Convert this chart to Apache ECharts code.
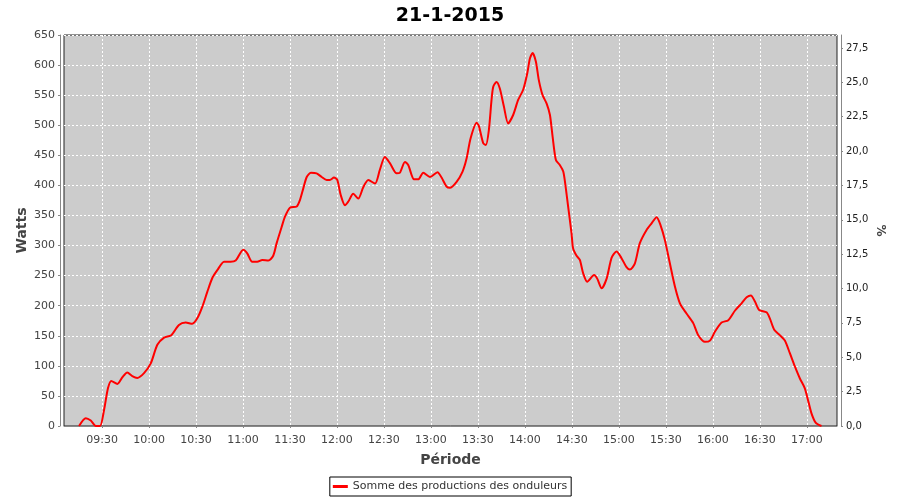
<!DOCTYPE html>
<html>
<head>
<meta charset="utf-8">
<script src="https://cdn.jsdelivr.net/npm/echarts@6/dist/echarts.min.js"></script>
<style>html,body{margin:0;padding:0;background:#fff}#c{width:900px;height:500px}</style>
</head>
<body>
<div id="c"></div>
<script>
// Time of each reading, minutes since midnight
const times = [555.3,559.6,562.8,566.0,568.7,571.3,573.8,575.9,579.8,583.0,586.1,589.3,592.5,596.8,
601.1,605.3,609.6,614.2,619.1,623.4,627.6,630.8,634.0,637.2,640.4,643.6,647.9,652.1,655.3,
660.2,662.7,665.9,669.1,672.3,676.2,679.3,681.5,684.7,686.8,690.0,694.3,696.4,698.5,700.7,703.4,707.0,710.2,713.4,715.5,718.1,
720.2,722.4,725.1,727.2,730.4,733.6,736.8,740.0,744.3,747.4,750.6,753.8,758.1,760.2,763.4,765.5,769.2,771.9,775.1,779.4,
784.2,786.8,790.0,792.1,796.4,800.2,802.8,805.3,809.2,810.6,813.4,815.1,817.0,818.7,819.8,821.9,824.0,826.6,829.3,832.5,835.7,838.9,
841.5,843.2,844.9,847.0,848.9,851.3,853.9,856.0,857.7,859.8,862.3,864.5,866.0,867.6,869.8,870.8,873.0,875.1,877.2,879.8,884.2,886.2,889.0,892.2,895.4,898.5,
901.7,904.9,907.0,910.2,913.4,917.7,920.9,924.1,926.6,929.4,932.6,935.8,939.0,943.2,947.5,950.7,955.0,958.2,
961.4,965.6,969.9,974.2,978.4,981.6,984.3,986.9,989.6,994.3,996.4,999.2,1002.8,1006.0,1009.2,1012.4,1015.6,1018.7,
1020.8,1023.0,1025.8,1029.4];
// Power (Watts)
const watts = [0,13,9,0,0,27,63,75,70,81,89,83,80,88,
104,135,147,151,168,172,170,179,198,223,246,259,273,273,275,
293,287,273,273,276,275,283,304,331,348,363,365,376,395,414,421,420,414,409,409,413,
409,384,367,373,386,378,397,409,403,426,447,437,420,421,439,434,410,410,421,414,
422,413,398,396,406,423,445,478,504,499,470,467,492,542,564,572,561,531,503,517,542,559,
586,611,620,606,575,550,536,517,481,442,434,423,398,365,320,295,283,276,254,240,251,245,229,245,280,290,
279,264,260,270,304,326,337,347,334,309,270,232,204,187,171,151,140,142,
157,172,176,192,204,214,217,207,193,189,179,160,151,142,121,99,79,63,
43,21,5,0];
const xTicks = [570,600,630,660,690,720,750,780,810,840,870,900,930,960,990,1020];
const title = '21-1-2015';
const seriesName = 'Somme des productions des onduleurs';

const FONT = 'DejaVu Sans';
function hhmm(v){const h=Math.floor(v/60),m=Math.round(v-h*60);return (h<10?'0':'')+h+':'+(m<10?'0':'')+m;}
const chart = echarts.init(document.getElementById('c'));
chart.setOption({
  animation:false,
  backgroundColor:'#ffffff',
  title:{text:title,left:'center',top:2,textStyle:{fontFamily:FONT,fontSize:19,fontWeight:'bold',color:'#000'}},
  legend:{top:477,left:'center',data:[seriesName],icon:'rect',itemWidth:15,itemHeight:3,
    borderColor:'#000',borderWidth:1,padding:[4,4,4,3],itemGap:4,
    textStyle:{fontFamily:FONT,fontSize:11,color:'#333'}},
  grid:{left:64,top:35,right:63,bottom:74,show:true,backgroundColor:'#cccccc',borderColor:'#222',borderWidth:1},
  xAxis:{type:'value',min:545.7,max:1039.3,offset:4,
    name:'Période',nameLocation:'middle',nameGap:23,nameMoveOverlap:false,nameTextStyle:{fontFamily:FONT,fontSize:14,fontWeight:'bold',color:'#444'},
    axisLine:{show:true,lineStyle:{color:'#888'}},
    axisTick:{show:true,length:2,customValues:xTicks,lineStyle:{color:'#888'}},
    axisLabel:{customValues:xTicks,formatter:hhmm,margin:5,fontFamily:FONT,fontSize:11,color:'#444'},
    splitLine:{show:true,lineStyle:{color:'#fff',type:[2,2],width:1}}},
  yAxis:[
    {type:'value',min:0,max:650,interval:50,offset:4,position:'left',
     name:'Watts',nameLocation:'middle',nameRotate:90,nameGap:31,nameMoveOverlap:false,nameTextStyle:{fontFamily:FONT,fontSize:14,fontWeight:'bold',color:'#444'},
     axisLine:{show:true,lineStyle:{color:'#888'}},axisTick:{show:true,length:2,lineStyle:{color:'#888'}},
     axisLabel:{margin:5,fontFamily:FONT,fontSize:11,color:'#444'},
     splitLine:{show:true,lineStyle:{color:'#fff',type:[2,2],width:1}}},
    {type:'value',min:0,max:28.44,interval:2.5,offset:4,position:'right',
     name:'%',nameLocation:'middle',nameRotate:-90,nameGap:33,nameMoveOverlap:false,nameTextStyle:{fontFamily:FONT,fontSize:12,fontWeight:'bold',color:'#444'},
     axisLine:{show:true,lineStyle:{color:'#888'}},axisTick:{show:true,length:2,lineStyle:{color:'#888'}},
     axisLabel:{margin:5,showMaxLabel:false,fontFamily:FONT,fontSize:10,color:'#222',formatter:v=>v.toFixed(1).replace('.',',')},
     splitLine:{show:false}}
  ],
  series:[{name:seriesName,type:'line',yAxisIndex:0,showSymbol:false,smooth:0.25,
    data:times.map((t,i)=>[t,watts[i]]),lineStyle:{color:'#ff0000',width:2},itemStyle:{color:'#ff0000'}}]
});
</script>
</body>
</html>
